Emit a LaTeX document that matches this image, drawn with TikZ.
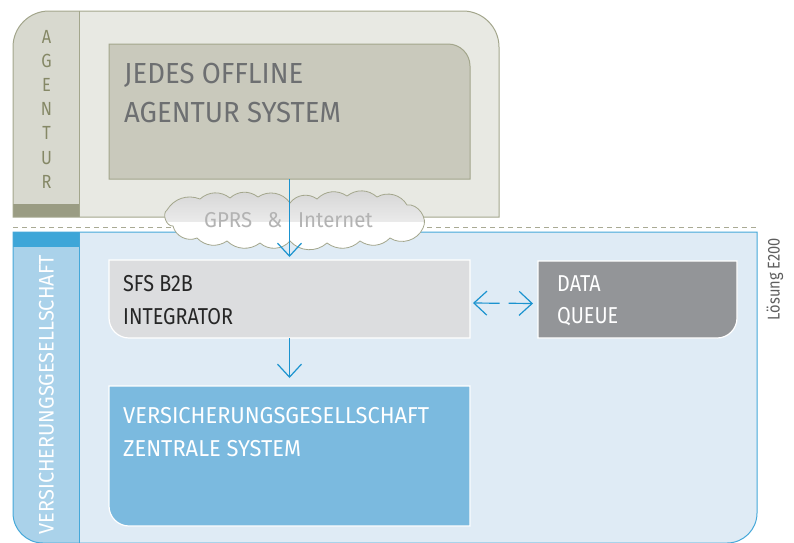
\documentclass[tikz,border=0pt]{standalone}
\usepackage{fontspec}
\setmainfont{Fira Sans}[FakeStretch=0.86]
\newfontfamily\widefont{Fira Sans}[FakeStretch=0.95]
\usetikzlibrary{arrows.meta,calc}
\definecolor{agLine}{HTML}{A3A68C}
\definecolor{agFill}{HTML}{E8E9E3}
\definecolor{agStrip}{HTML}{D8D9CF}
\definecolor{agBand}{HTML}{9A9C83}
\definecolor{agBox}{HTML}{C9C9BC}
\definecolor{agText}{HTML}{6D6F71}
\definecolor{agLetter}{HTML}{858866}
\definecolor{vsLine}{HTML}{45A8D9}
\definecolor{vsFill}{HTML}{DFEBF5}
\definecolor{vsStrip}{HTML}{AAD2EA}
\definecolor{vsBand}{HTML}{3EA6D8}
\definecolor{sfsFill}{HTML}{DCDDDF}
\definecolor{queueFill}{HTML}{939598}
\definecolor{zsFill}{HTML}{7BBADF}
\definecolor{arrowBlue}{HTML}{1B93CF}
\definecolor{dashGray}{HTML}{A9AA94}
\definecolor{cloudText}{HTML}{B3B3B3}
\definecolor{noteGray}{HTML}{5E5E5E}

\begin{document}
\begin{tikzpicture}[x=1pt,y=-1pt,
    frame/.style={inner sep=0pt,outer sep=0pt,anchor=north west},
    lbl/.style={inner sep=0pt,anchor=north west,align=left},
    arr/.style={draw=arrowBlue,line width=1.2pt,-{Straight Barb[length=13pt,width=24pt]}}]
  \useasboundingbox (0,0) rectangle (794,542);
  % frames
  \node[frame,minimum width=486pt,minimum height=206pt] (agentur) at (13,11) {};
  \node[frame,minimum width=66pt,minimum height=206pt] (agstrip) at (13,11) {};
  \node[frame,minimum width=744pt,minimum height=311pt] (vsg) at (13,232) {};
  \node[frame,minimum width=66pt,minimum height=311pt] (vsgstrip) at (13,232) {};
  \node[frame,minimum width=361pt,minimum height=135pt] (jedes) at (109,44) {};
  \node[frame,minimum width=361pt,minimum height=78pt] (sfs) at (109,260) {};
  \node[frame,minimum width=199pt,minimum height=77pt] (queue) at (538,261) {};
  \node[frame,minimum width=361pt,minimum height=140pt] (zentrale) at (109,386) {};

  % agentur
  \draw[agLine,line width=1pt,fill=agFill,
    path picture={
      \fill[agStrip] (agstrip.north west) rectangle (agstrip.south east);
      \fill[agBand] ([yshift=13pt]agstrip.south west) rectangle (agstrip.south east);}]
    (agentur.west) [rounded corners=36pt] -- (agentur.north west) -- (agentur.north east)
    -- (agentur.east) [sharp corners] -- (agentur.south east) -- (agentur.south west) -- cycle;
  \draw[agLine,line width=1pt] (agstrip.north east) -- (agstrip.south east);
  \draw[agLine,line width=1pt,fill=agBox] (jedes.north) [rounded corners=22pt] -- (jedes.north east)
    -- (jedes.east) [sharp corners] -- (jedes.south east) -- (jedes.south west) -- (jedes.north west) -- cycle;
  \node[lbl,text=agText,font=\widefont\fontsize{29}{38.5}\selectfont] (jedeslbl)
    at ([xshift=15pt,yshift=-19pt]jedes.north west) {JEDES OFFLINE\\AGENTUR SYSTEM};
  \foreach \l [count=\i] in {A,G,E,N,T,U,R}
    \node[anchor=base,inner sep=0pt,text=agLetter,font=\fontsize{19}{20}\selectfont] (ag\i)
      at ({46.5},{43+24.2*(\i-1)}) {\l};

  % versicherung
  \draw[dashGray,line width=0.8pt,dash pattern=on 5pt off 4pt]
    ([yshift=5pt]vsg.north west) -- ([yshift=5pt]vsg.north east);
  \draw[vsLine,line width=1pt,fill=vsFill,
    path picture={
      \fill[vsStrip] (vsgstrip.north west) rectangle (vsgstrip.south east);
      \fill[vsBand] (vsgstrip.north west) rectangle ([yshift=-15pt]vsgstrip.north east);}]
    (vsg.north) -- (vsg.north east) -- (vsg.east) [rounded corners=30pt] -- (vsg.south east)
    -- (vsg.south west) -- (vsg.west) [sharp corners] -- (vsg.north west) -- cycle;
  \draw[vsLine,line width=1pt] (vsgstrip.north east) -- (vsgstrip.south east);
  \node[rotate=90,inner sep=0pt,text=white,font=\widefont\fontsize{21}{24}\selectfont] (vsglbl)
    at (46.5,394.5) {VERSICHERUNGSGESELLSCHAFT};
  \node[rotate=90,inner sep=0pt,text=noteGray,font=\fontsize{17}{20}\selectfont] (loesung)
    at (775,279) {Lösung E200};

  \draw[white,line width=1.2pt,fill=sfsFill] (sfs.west) [rounded corners=20pt] -- (sfs.south west)
    -- (sfs.south) [sharp corners] -- (sfs.south east) -- (sfs.north east) -- (sfs.north west) -- cycle;
  \node[lbl,text=black!85,font=\fontsize{23}{33.5}\selectfont] (sfslbl)
    at ([xshift=14pt,yshift=-15pt]sfs.north west) {SFS B2B\\INTEGRATOR};
  \draw[white,line width=1.2pt,fill=queueFill] (queue.south) [rounded corners=20pt] -- (queue.south east)
    -- (queue.east) [sharp corners] -- (queue.north east) -- (queue.north west) -- (queue.south west) -- cycle;
  \node[lbl,text=white,font=\fontsize{23}{32}\selectfont] (queuelbl)
    at ([xshift=19pt,yshift=-14pt]queue.north west) {DATA\\QUEUE};
  \draw[white,line width=1.2pt,fill=zsFill] (zentrale.west) [rounded corners=20pt] -- (zentrale.south west)
    -- (zentrale.south) [sharp corners] -- (zentrale.south east) -- (zentrale.north east) -- (zentrale.north west) -- cycle;
  \node[lbl,text=white,font=\widefont\fontsize{23}{33}\selectfont] (zentralelbl)
    at ([xshift=14pt,yshift=-21pt]zentrale.north west) {VERSICHERUNGSGESELLSCHAFT\\ZENTRALE SYSTEM};

  % cloud
  \coordinate (net) at (295.5,219);
  \draw[agLine,line width=0.8pt,fill=white,
    path picture={\shade[top color=black!17,bottom color=white]
      ([shift={(-140,-32)}]net) rectangle ([shift={(140,2)}]net);}]
    (167,210) to[bend left=40] (200,199) to[bend left=40] (230,198) to[bend left=40] (258,197)
    to[bend left=45] (290,203) to[bend left=45] (317,199) to[bend left=40] (347,196)
    to[bend left=40] (377,197) to[bend left=45] (407,205) to[bend left=65] (423,228)
    to[bend left=50] (390,238) to[bend left=40] (360,241) to[bend left=40] (327,243)
    to[bend left=45] (290,241) to[bend left=45] (260,243) to[bend left=40] (227,241)
    to[bend left=40] (197,238) to[bend left=50] (173,226) to[bend left=75] (167,210) -- cycle;
  \node[anchor=base,inner sep=0pt,text=cloudText,font=\widefont\fontsize{21.5}{24}\selectfont] (netlbl)
    at ([xshift=-7pt,yshift=-8pt]net) {GPRS\hspace{15pt}\&\hspace{16pt}Internet};

  % arrows
  \draw[arr,shorten >=3pt] (jedes.south) -- (sfs.north);
  \draw[arr,shorten >=8pt] (sfs.south) -- (zentrale.north);
  \coordinate (mid) at ($(sfs.east)!0.5!(queue.west)+(0,4)$);
  \draw[arr,shorten <=4.5pt,shorten >=3pt] (mid) -- ([yshift=-4pt]sfs.east);
  \draw[arr,shorten <=4.5pt,shorten >=5pt] (mid) -- ([yshift=-4pt]queue.west);
\end{tikzpicture}
\end{document}
